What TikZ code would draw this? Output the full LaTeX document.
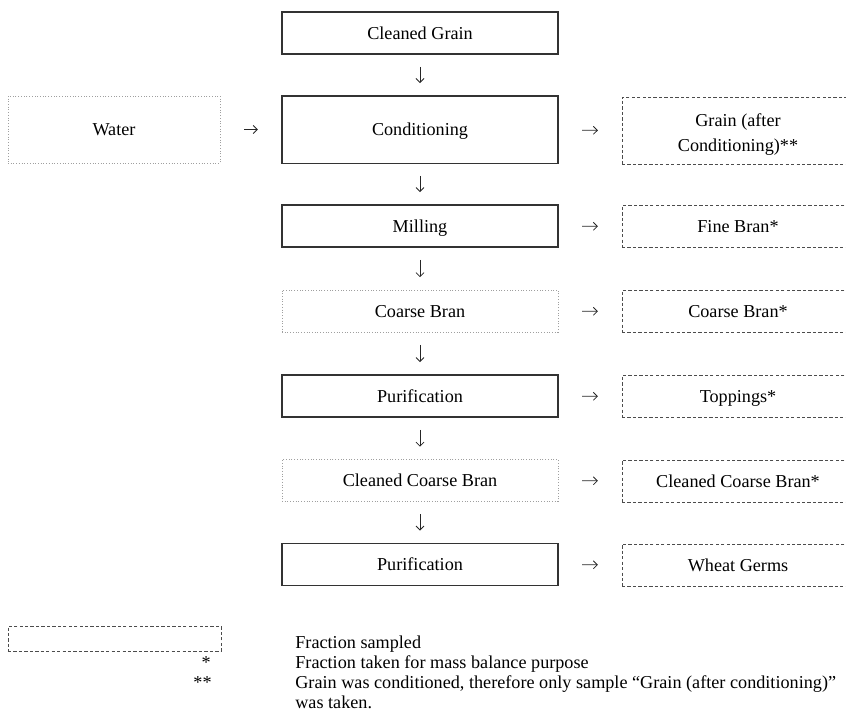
\documentclass[tikz,border=0pt]{standalone}
\usepackage{fontspec}
\setmainfont{Liberation Serif}
\usetikzlibrary{arrows.meta}

\begin{document}
\begin{tikzpicture}[
  x=0.55pt, y=-0.55pt,
  proc/.style={draw=black!80, line width=0.6pt, minimum width=151.8pt,
               minimum height=23.1pt, inner sep=2pt, align=center, oneline},
  feed/.style={draw=gray!75, line width=0.5pt, densely dotted, minimum width=151.8pt,
               minimum height=23.1pt, inner sep=2pt, align=center, oneline},
  samp/.style={draw=black!70, line width=0.5pt, dash pattern=on 1.8pt off 1.2pt,
               minimum width=127.6pt, minimum height=23.1pt, inner sep=2pt, align=center},
  oneline/.style={text height=8pt, text depth=1pt},
  tall/.style={minimum height=36.9pt},
  arr/.style={-{Straight Barb[length=2.2pt,width=4.4pt]}, line width=0.45pt, draw=black!85},
  vflow/.style={arr, shorten <=6.8pt, shorten >=6.8pt},
  hflow/.style={arr, shorten <=13pt, shorten >=13pt},
  note/.style={anchor=base west, inner sep=0pt},
]
  \useasboundingbox (0,0) rectangle (846,711);
  \clip (0,0) rectangle (846,711);

  % main line
  \node[proc] (clean) at (420,33) {Cleaned Grain};
  \node[proc, tall] (cond) at (420,129.5) {Conditioning};
  \node[proc] (mill) at (420,226) {Milling};
  \node[feed] (coarse) at (420,311) {Coarse Bran};
  \node[proc] (puri) at (420,396) {Purification};
  \node[feed] (ccbran) at (420,480.5) {Cleaned Coarse Bran};
  \node[proc] (purii) at (420,564.5) {Purification};

  % input
  \node[feed, tall, minimum width=116.6pt] (water) at (114,129.5) {Water};

  % sampled fractions
  \node[samp, tall, font=\linespread{1.15}\selectfont] (sgrain) at (738,131) {\rule{0pt}{11pt}Grain (after\\Conditioning)**};
  \node[samp, oneline] (sfine) at (738,226.5) {Fine Bran*};
  \node[samp, oneline] (scoarse) at (738,311.5) {Coarse Bran*};
  \node[samp, oneline] (stop) at (738,396.5) {Toppings*};
  \node[samp, oneline] (sccbran) at (738,481) {Cleaned Coarse Bran*};
  \node[samp, oneline] (sgerm) at (738,565) {Wheat Germs};

  \draw[vflow] (clean) -- (cond);
  \draw[vflow] (cond) -- (mill);
  \draw[vflow] (mill) -- (coarse);
  \draw[vflow] (coarse) -- (puri);
  \draw[vflow] (puri) -- (ccbran);
  \draw[vflow] (ccbran) -- (purii);

  \draw[hflow] (water) -- (cond);
  \draw[hflow] (cond) -- (sgrain);
  \draw[hflow] (mill) -- (sfine);
  \draw[hflow] (coarse) -- (scoarse);
  \draw[hflow] (puri) -- (stop);
  \draw[hflow] (ccbran) -- (sccbran);
  \draw[hflow] (purii) -- (sgerm);

  % legend
  \node[samp, minimum width=117.2pt, minimum height=13.75pt] (legbox) at (114.5,638.5) {};
  \node[anchor=base east, inner sep=0pt] (star) at (211,668) {*};
  \node[anchor=base east, inner sep=0pt] (stars) at (212,688) {**};
  \node[note] (leg1) at (295,648) {Fraction sampled};
  \node[note] (leg2) at (295,668) {Fraction taken for mass balance purpose};
  \node[note] (leg3) at (295,688) {Grain was conditioned, therefore only sample “Grain (after conditioning)”};
  \node[note] (leg4) at (295,708) {was taken.};
\end{tikzpicture}
\end{document}
